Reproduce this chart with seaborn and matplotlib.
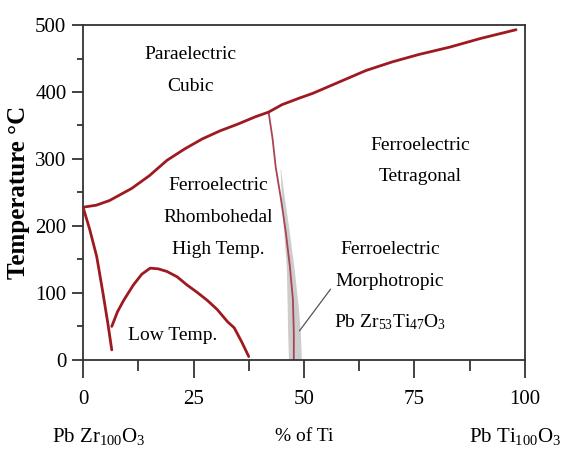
import matplotlib
matplotlib.use("Agg")
import matplotlib.pyplot as plt
import seaborn as sns
import pandas as pd

# Phase boundaries of the PbZrO3 - PbTiO3 system (x = % Ti, T in deg C)
curie_ti = [0, 3, 6, 11, 15, 19, 23, 27, 31, 35, 39, 42, 45, 49, 52, 58, 64, 70, 76, 83, 90, 98]
curie_t = [228, 231, 238, 256, 275, 298, 315, 330, 342, 352, 363, 370, 381, 391, 398, 415, 432, 445, 456, 467, 480, 493]

rhomb_ti = [0, 1.5, 3.1, 4.5, 5.6, 6.5]
rhomb_t = [228, 195, 154, 100, 55, 15]

low_ti = [6.5, 7.8, 9.2, 11.4, 13.3, 15.2, 17.0, 19.0, 21.3, 23.5, 25.8, 28.1, 30.4, 32.7, 34.2, 35.9, 37.5]
low_t = [50, 72, 89, 112, 128, 137, 136, 132, 124, 112, 101, 89, 75, 57, 48, 27, 5]

mpb_ti = [42.0, 42.9, 43.6, 44.8, 45.9, 46.8, 47.5, 47.7, 47.7]
mpb_t = [370, 330, 288, 240, 190, 140, 90, 40, 0]

band_t = [285, 240, 200, 140, 80, 40, 0]
band_lo = [44.6, 44.9, 45.3, 46.0, 46.2, 46.3, 46.5]
band_hi = [44.7, 45.6, 46.5, 47.7, 48.7, 49.2, 49.4]

x_ticks = [0, 25, 50, 75, 100]
y_ticks = [0, 100, 200, 300, 400, 500]

sns.set_style("ticks")
plt.rcParams["font.family"] = ["Liberation Serif", "DejaVu Serif"]
plt.rcParams["mathtext.fontset"] = "custom"
plt.rcParams["mathtext.rm"] = "Liberation Serif"
plt.rcParams["mathtext.it"] = "Liberation Serif:italic"
plt.rcParams["text.color"] = "black"
plt.rcParams["axes.labelcolor"] = "black"
plt.rcParams["xtick.color"] = "#222222"
plt.rcParams["ytick.color"] = "#222222"
plt.rcParams["xtick.labelcolor"] = "black"
plt.rcParams["ytick.labelcolor"] = "black"

fig = plt.figure(figsize=(5.65, 4.55), dpi=100)
ax = fig.add_axes([0.147, 0.209, 0.782, 0.736])

red = "#9e1a20"
ax.fill_betweenx(band_t, band_lo, band_hi, color="#cdcdcd", lw=0, zorder=1)

for xs, ys in [(curie_ti, curie_t), (rhomb_ti, rhomb_t), (low_ti, low_t)]:
    sns.lineplot(data=pd.DataFrame({"ti": xs, "t": ys}), x="ti", y="t", sort=False,
                 estimator=None, color=red, lw=2.0, ax=ax, zorder=3)
sns.lineplot(data=pd.DataFrame({"ti": mpb_ti, "t": mpb_t}), x="ti", y="t", sort=False,
             estimator=None, color="#a84454", lw=1.3, ax=ax, zorder=2)

ax.annotate("", xy=(48.6, 40), xytext=(56.4, 109),
            arrowprops=dict(arrowstyle="-", color="#555555", lw=0.9))

ax.set_xlim(0, 100)
ax.set_ylim(0, 500)
ax.set_xticks(x_ticks)
ax.set_xticks([12.5, 37.5, 62.5, 87.5], minor=True)
ax.set_yticks(y_ticks)
ax.set_yticks([50, 150, 250, 350, 450], minor=True)
ax.tick_params(axis="x", which="major", length=13, width=1.2, pad=9, labelsize=15)
ax.tick_params(axis="x", which="minor", length=8, width=1.2)
ax.tick_params(axis="y", which="major", length=8, width=1.2, pad=4, labelsize=15)
ax.tick_params(axis="y", which="minor", length=4, width=1.2)
for s in ax.spines.values():
    s.set_visible(True)
    s.set_linewidth(1.3)
    s.set_color("#333333")

ax.set_xlabel("")
ax.set_ylabel("Temperature °C", fontsize=18, fontweight="bold", labelpad=4)

fs = 14
ls = 2.15
ax.text(24.3, 432, "Paraelectric\nCubic", ha="center", va="center", fontsize=fs, linespacing=ls)
ax.text(30.5, 212, "Ferroelectric\nRhombohedal\nHigh Temp.", ha="center", va="center",
        fontsize=fs, linespacing=ls)
ax.text(20.2, 37, "Low Temp.", ha="center", va="center", fontsize=fs)
ax.text(76.4, 297, "Ferroelectric\nTetragonal", ha="center", va="center", fontsize=fs, linespacing=ls)
ax.text(69.5, 141, "Ferroelectric\nMorphotropic", ha="center", va="center", fontsize=fs, linespacing=ls)
ax.text(69.5, 57, r"Pb Zr$_{53}$Ti$_{47}$O$_{3}$", ha="center", va="center", fontsize=fs)

xt = ax.get_xaxis_transform()
ax.text(3.6, -0.23, r"Pb Zr$_{100}$O$_{3}$", transform=xt, ha="center", va="center", fontsize=15)
ax.text(50, -0.23, "% of Ti", transform=xt, ha="center", va="center", fontsize=fs)
ax.text(108.2, -0.23, r"Pb Ti$_{100}$O$_{3}$", transform=xt, ha="right", va="center", fontsize=15)

fig.savefig("out.png", dpi=100)
